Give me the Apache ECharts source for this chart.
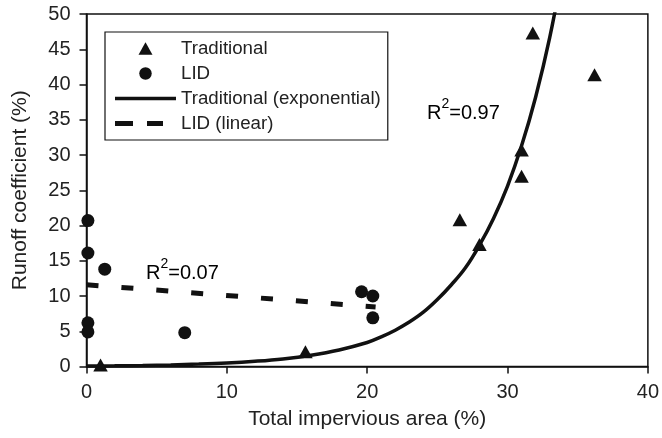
<!DOCTYPE html>
<html>
<head>
<meta charset="utf-8">
<script src="https://cdn.jsdelivr.net/npm/echarts@6/dist/echarts.min.js"></script>
<style>
html,body{margin:0;padding:0;background:#fff;}
#c{width:662px;height:438px;}
</style>
</head>
<body>
<div id="c"></div>
<script>
// Traditional (triangles)
const tradX = [1.0, 15.6, 26.6, 28.0, 31.0, 31.0, 31.8, 36.2];
const tradY = [0.2, 2.1, 20.8, 17.3, 27.0, 30.7, 47.3, 41.4];
// LID (circles)
const lidX = [0.1, 0.1, 1.3, 0.1, 0.1, 7.0, 19.6, 20.4, 20.4];
const lidY = [20.7, 16.1, 13.8, 6.2, 4.9, 4.8, 10.6, 10.0, 6.9];
// Traditional exponential trend
const expX = [0, 2, 4, 6, 8, 10, 12, 14, 16, 18, 20, 21, 22, 23, 24, 25, 26, 27, 28, 29, 30, 31, 32, 33, 34];
const expY = [0.07, 0.1, 0.15, 0.23, 0.34, 0.5, 0.74, 1.08, 1.6, 2.35, 3.4, 4.2, 5.15, 6.3, 7.7, 9.5, 11.6, 14.0, 17.2, 21.0, 25.6, 31.3, 38.2, 46.6, 57.0];
// LID linear trend
const linX = [0, 20.6];
const linY = [11.6, 8.45];
// axes
const xTicks = [0, 10, 20, 30, 40];
const yTicks = [0, 5, 10, 15, 20, 25, 30, 35, 40, 45, 50];

const FONT = "'Liberation Sans', Arial, sans-serif";
const INK = '#111111';
const TXT = '#222222';
const zip = (xs, ys) => xs.map((x, i) => [x, ys[i]]);

const chart = echarts.init(document.getElementById('c'), null, {renderer: 'canvas'});
const axisCommon = {
  axisLine: {show: true, onZero: false, lineStyle: {color: INK, width: 1.5}},
  axisTick: {show: true, inside: false, length: 7, lineStyle: {color: INK, width: 1.5}},
  splitLine: {show: false},
  axisLabel: {color: TXT, fontSize: 20, fontFamily: FONT, margin: 16},
  nameTextStyle: {color: TXT, fontSize: 21, fontFamily: FONT},
  nameLocation: 'middle'
};
const rich = {
  r: {fontSize: 20, fontFamily: FONT, color: TXT, verticalAlign: 'bottom', lineHeight: 26},
  s: {fontSize: 14, fontFamily: FONT, color: TXT, verticalAlign: 'top', lineHeight: 26}
};
chart.setOption({
  animation: false,
  backgroundColor: '#fff',
  grid: {left: 86.5, right: 13, top: 14, bottom: 71.5, show: true, borderColor: INK, borderWidth: 1.5, containLabel: false},
  xAxis: Object.assign({}, axisCommon, {
    type: 'value', min: xTicks[0], max: xTicks[xTicks.length - 1], interval: 10,
    name: 'Total impervious area (%)', nameGap: 42
  }),
  yAxis: Object.assign({}, axisCommon, {
    type: 'value', min: yTicks[0], max: yTicks[yTicks.length - 1], interval: 5,
    name: 'Runoff coefficient (%)', nameGap: 56
  }),
  legend: {
    orient: 'vertical', left: 105, top: 32,
    padding: [7, 7, 7, 10],
    borderColor: INK, borderWidth: 1.2,
    itemWidth: 61, itemHeight: 12.5, itemGap: 6,
    symbolKeepAspect: true,
    textStyle: {color: TXT, fontSize: 18.7, fontFamily: FONT},
    data: [
      {name: 'Traditional', icon: 'path://M7,0L14,12.5L0,12.5Z'},
      {name: 'LID', icon: 'circle'},
      {name: 'Traditional (exponential)', icon: 'path://M0,0h61v3.5h-61z'},
      {name: 'LID (linear)', icon: 'path://M0,0h18v5h-18zM32,0h16v5h-16zM61,0v5'}
    ]
  },
  graphic: [
    {type: 'text', left: 427, top: 97, style: {text: '{r|R}{s|2}{r|=0.97}', rich: rich}},
    {type: 'text', left: 146, top: 257, style: {text: '{r|R}{s|2}{r|=0.07}', rich: rich}}
  ],
  series: [
    {name: 'Traditional', type: 'scatter', symbol: 'triangle', symbolSize: [14.5, 13],
     itemStyle: {color: INK, opacity: 1}, data: zip(tradX, tradY), z: 4},
    {name: 'LID', type: 'scatter', symbol: 'circle', symbolSize: 13,
     itemStyle: {color: INK, opacity: 1}, data: zip(lidX, lidY), z: 4},
    {name: 'Traditional (exponential)', type: 'line', smooth: 0.4, symbol: 'none', clip: true,
     lineStyle: {color: INK, width: 3.5}, itemStyle: {color: INK}, data: zip(expX, expY), z: 3},
    {name: 'LID (linear)', type: 'line', symbol: 'none', clip: true,
     lineStyle: {color: INK, width: 5, type: [12, 23]}, itemStyle: {color: INK}, data: zip(linX, linY), z: 3}
  ]
});
</script>
</body>
</html>
